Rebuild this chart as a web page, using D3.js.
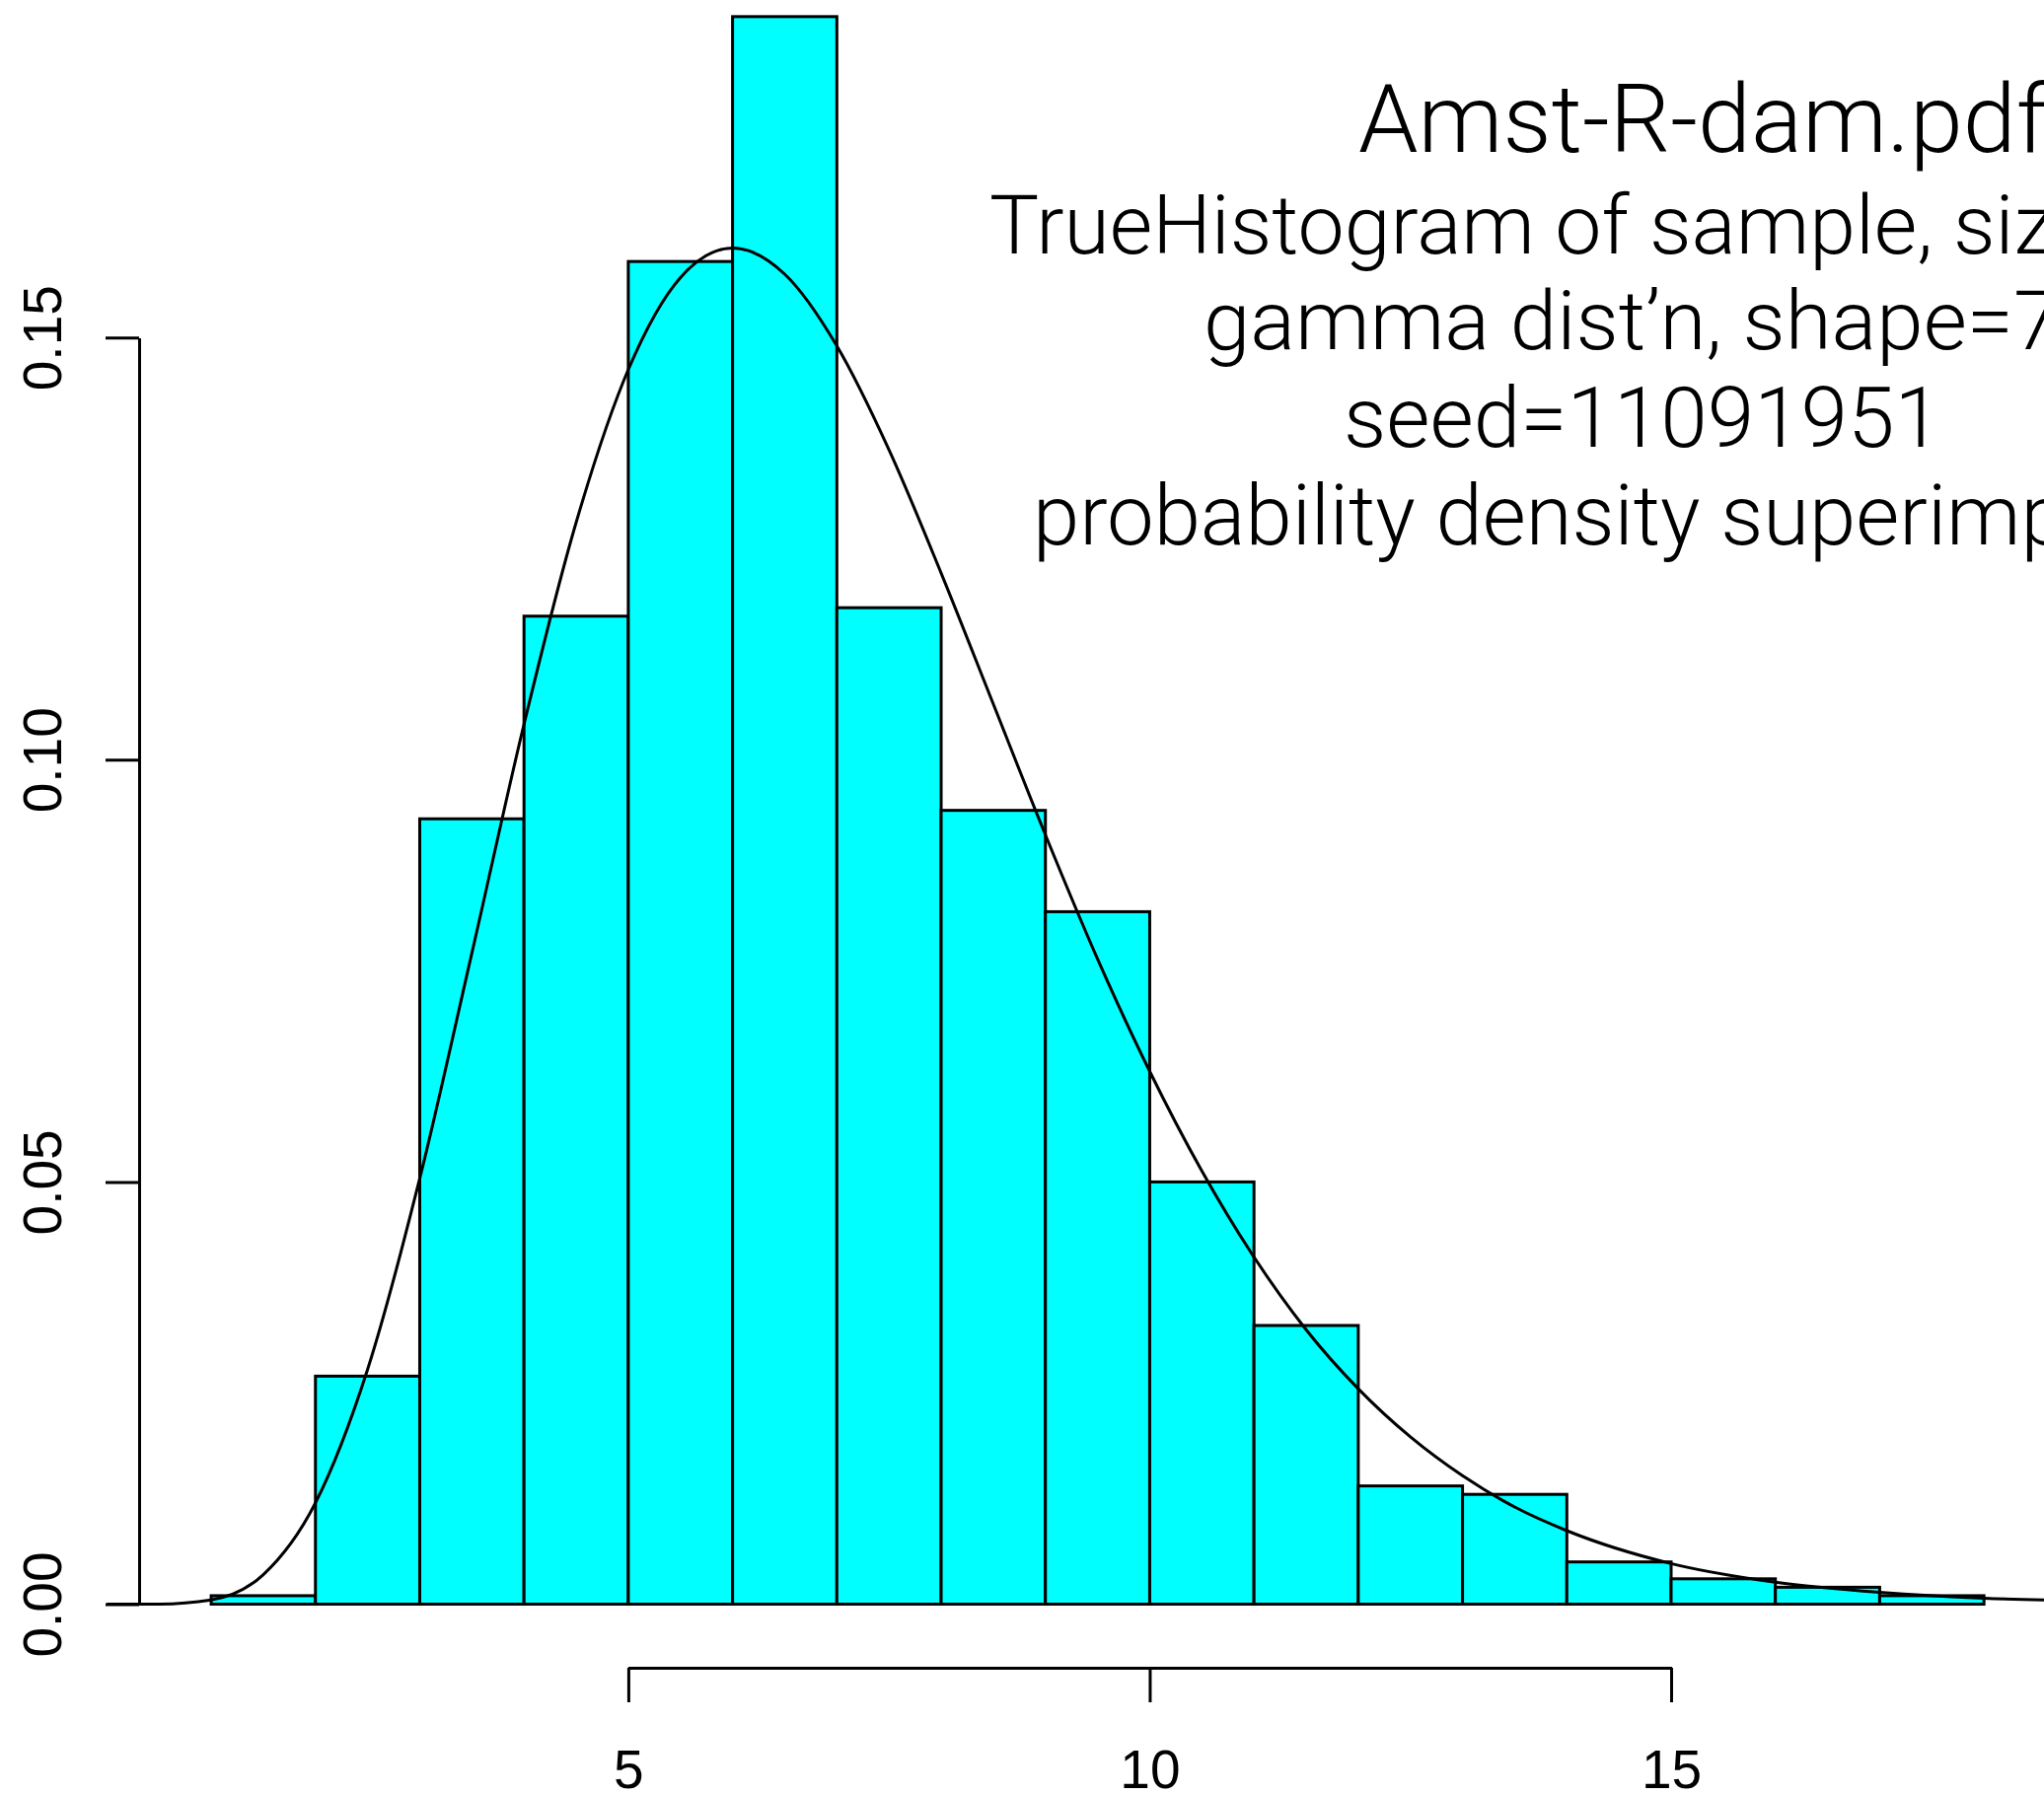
<!DOCTYPE html>
<html><head><meta charset="utf-8">
<script src="https://cdn.jsdelivr.net/npm/d3@7"></script>
<style>html,body{margin:0;padding:0;background:#fff;overflow:hidden}</style>
</head><body><svg id="c" width="2072" height="1819"></svg>
<script>
// ---- data ----
const binStarts = [1,2,3,4,5,6,7,8,9,10,11,12,13,14,15,16,17];
const binEnds   = [2,3,4,5,6,7,8,9,10,11,12,13,14,15,16,17,18];
const density   = [0.001,0.027,0.093,0.117,0.159,0.188,0.118,0.094,0.082,0.050,0.033,0.014,0.013,0.005,0.003,0.002,0.001];
const curveX = [0,0.5,1,1.5,2,2.5,3,3.5,4,4.5,5,5.5,6,6.5,7,7.5,8,8.5,9,9.5,10,10.5,11,11.5,12,12.5,13,13.5,14,15,16,17,18,19,20];
const curveY = [0,0.00001,0.0005,0.0035,0.012,0.0278,0.0504,0.0771,0.1042,0.1281,0.1462,0.1571,0.1606,0.1575,0.149,0.1367,0.1221,0.1066,0.0911,0.0764,0.0631,0.0513,0.0411,0.0325,0.0255,0.0198,0.0152,0.0115,0.0087,0.0048,0.0026,0.0014,0.0007,0.0004,0.0002];
const yTicks = [0,0.05,0.10,0.15];
const yTickLabels = ["0.00","0.05","0.10","0.15"];
const xTicks = [5,10,15];
const xTickLabels = ["5","10","15"];
const titleLines = ["Amst-R-dam.pdf","TrueHistogram of sample, size=1000","gamma dist\u2019n, shape=7, rate=1","seed=11091951","probability density superimposed"];

// ---- layout ----
const titleLayout = [
  {x:1377, y:153.5, size:96},
  {x:1003, y:256.5, size:83},
  {x:1220, y:354,   size:83},
  {x:1362, y:453,   size:85},
  {x:1047, y:552,   size:84.5}
];
const svg = d3.select("#c");
const x = d3.scaleLinear().domain([5,15]).range([636.9,1694]);
const y = d3.scaleLinear().domain([0,0.15]).range([1626.5,342.2]);
const LW = 3;

// bars
svg.append("g").selectAll("rect").data(density).join("rect")
  .attr("x",(d,i)=>x(binStarts[i]))
  .attr("width",(d,i)=>x(binEnds[i])-x(binStarts[i]))
  .attr("y",d=>y(d))
  .attr("height",d=>y(0)-y(d))
  .attr("fill","#00FFFF").attr("stroke","#000").attr("stroke-width",LW);

// curve
svg.append("path").datum(curveX.map((v,i)=>[v,curveY[i]]))
  .attr("fill","none").attr("stroke","#000").attr("stroke-width",LW)
  .attr("d",d3.line().x(d=>x(d[0])).y(d=>y(d[1])).curve(d3.curveMonotoneX));

// y axis
const gy = svg.append("g").attr("transform","translate(141,0)")
  .call(d3.axisLeft(y).tickValues(yTicks).tickFormat((d,i)=>yTickLabels[i]).tickSize(34).tickSizeOuter(0));
gy.selectAll("path,line").attr("stroke","#000").attr("stroke-width",LW);
gy.selectAll("text").attr("transform","rotate(-90)").attr("x",0).attr("y",-79).attr("dy",0)
  .attr("text-anchor","middle").attr("fill","#000")
  .attr("font-family","Liberation Sans, Arial, sans-serif").attr("font-size",55);

// x axis
const gx = svg.append("g").attr("transform","translate(0,1691)")
  .call(d3.axisBottom(x).tickValues(xTicks).tickFormat((d,i)=>xTickLabels[i]).tickSize(35).tickSizeOuter(0));
gx.selectAll("path,line").attr("stroke","#000").attr("stroke-width",LW);
gx.selectAll("text").attr("y",122).attr("dy",0).attr("fill","#000")
  .attr("font-family","Liberation Sans, Arial, sans-serif").attr("font-size",55);
svg.selectAll(".domain").attr("shape-rendering","crispEdges");

// title lines
titleLines.forEach((t,i)=>{
  const L = titleLayout[i];
  const el = svg.append("text").attr("x",L.x).attr("y",L.y)
    .attr("font-size",L.size).attr("font-family","Liberation Sans").attr("fill","#000").text(t);
  const w = el.node().getComputedTextLength();
  el.attr("font-family","Roboto, 'Open Sans', Lato, sans-serif").attr("font-weight",300)
    .attr("textLength",w).attr("lengthAdjust","spacingAndGlyphs");
});
</script></body></html>
